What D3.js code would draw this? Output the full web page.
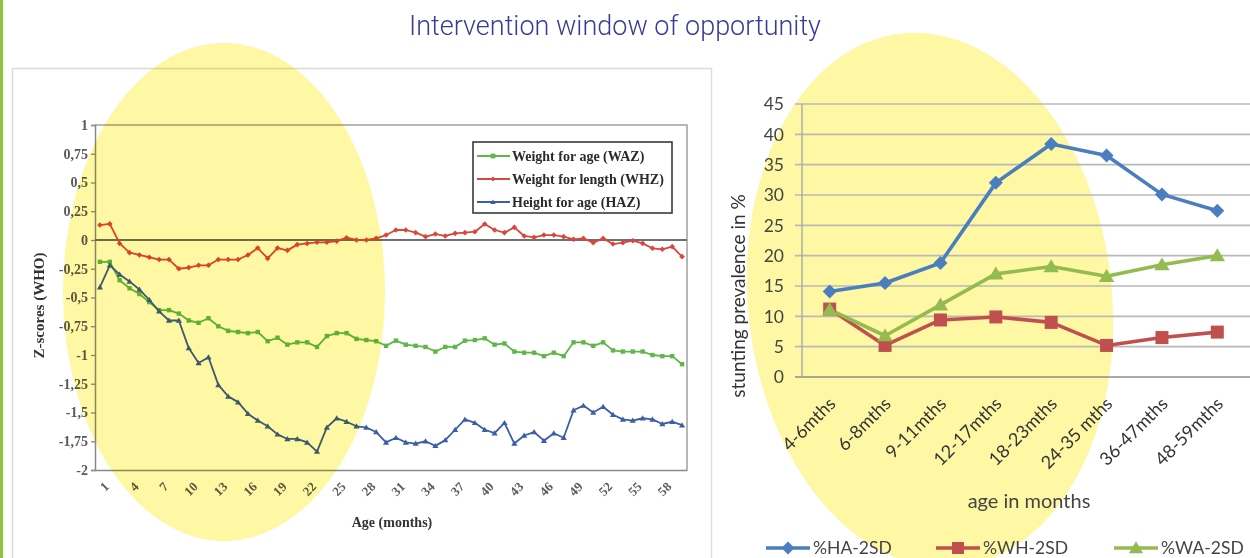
<!DOCTYPE html>
<html>
<head>
<meta charset="utf-8">
<script src="https://cdn.jsdelivr.net/npm/d3@7"></script>
<style>
  html, body { margin: 0; padding: 0; background: #ffffff; }
  svg { display: block; }
</style>
</head>
<body>
<svg id="chart" width="1250" height="558"></svg>
<script>
// ---------- Left panel: mean Z-scores by age in months ----------
const months = [1,2,3,4,5,6,7,8,9,10,11,12,13,14,15,16,17,18,19,20,
  21,22,23,24,25,26,27,28,29,30,31,32,33,34,35,36,37,38,39,40,
  41,42,43,44,45,46,47,48,49,50,51,52,53,54,55,56,57,58,59,60];
const monthTickLabels = [1,4,7,10,13,16,19,22,25,28,31,34,37,40,43,46,49,52,55,58];
const zTickValues = [1,0.75,0.5,0.25,0,-0.25,-0.5,-0.75,-1,-1.25,-1.5,-1.75,-2];

const waz = [-0.19,-0.19,-0.35,-0.42,-0.47,-0.54,-0.61,-0.61,-0.64,-0.70,
  -0.72,-0.68,-0.75,-0.79,-0.80,-0.81,-0.80,-0.88,-0.85,-0.91,
  -0.89,-0.89,-0.93,-0.835,-0.81,-0.81,-0.86,-0.87,-0.88,-0.92,
  -0.875,-0.91,-0.92,-0.93,-0.97,-0.93,-0.93,-0.875,-0.87,-0.855,
  -0.91,-0.90,-0.97,-0.98,-0.98,-1.01,-0.98,-1.01,-0.89,-0.89,
  -0.92,-0.89,-0.96,-0.97,-0.97,-0.97,-1.00,-1.01,-1.01,-1.08];
const whz = [0.13,0.14,-0.03,-0.11,-0.13,-0.15,-0.17,-0.17,-0.25,-0.24,
  -0.22,-0.22,-0.17,-0.17,-0.17,-0.13,-0.07,-0.16,-0.07,-0.09,
  -0.04,-0.03,-0.02,-0.02,-0.01,0.02,0.00,0.00,0.015,0.043,
  0.087,0.087,0.064,0.029,0.052,0.035,0.058,0.064,0.072,0.139,
  0.087,0.064,0.11,0.035,0.023,0.043,0.043,0.029,0.006,0.014,
  -0.023,0.014,-0.035,-0.023,-0.006,-0.029,-0.072,-0.081,-0.058,-0.145];
const haz = [-0.41,-0.22,-0.30,-0.36,-0.43,-0.52,-0.62,-0.70,-0.70,-0.94,
  -1.07,-1.02,-1.26,-1.36,-1.41,-1.51,-1.57,-1.62,-1.69,-1.73,
  -1.73,-1.76,-1.84,-1.63,-1.55,-1.58,-1.62,-1.63,-1.67,-1.76,
  -1.72,-1.76,-1.77,-1.75,-1.79,-1.74,-1.65,-1.56,-1.59,-1.65,
  -1.68,-1.59,-1.77,-1.70,-1.67,-1.745,-1.68,-1.72,-1.48,-1.44,
  -1.50,-1.45,-1.52,-1.56,-1.57,-1.55,-1.56,-1.60,-1.58,-1.61];
const zSeriesNames = ["Weight for age (WAZ)", "Weight for length (WHZ)", "Height for age (HAZ)"];

// ---------- Right panel: stunting prevalence by age group ----------
const ageGroups = ["4-6mths","6-8mths","9-11mths","12-17mths","18-23mths","24-35 mths","36-47mths","48-59mths"];
const pctHA = [14.1,15.5,18.8,32.0,38.4,36.5,30.1,27.4];
const pctWH = [11.2,5.2,9.4,9.9,9.0,5.2,6.5,7.4];
const pctWA = [11.1,6.8,11.9,17.0,18.2,16.6,18.5,20.0];
const prevSeriesNames = ["%HA-2SD","%WH-2SD","%WA-2SD"];
const prevTicks = [0,5,10,15,20,25,30,35,40,45];

const svg = d3.select("#chart");
const YELLOW = "#fef7a4";

// page accents
svg.append("rect").attr("x", 0).attr("y", 0).attr("width", 3).attr("height", 558).attr("fill", "#8cc63e");

// left chart frame
svg.append("rect").attr("x", 12.5).attr("y", 68.5).attr("width", 699).attr("height", 500)
  .attr("fill", "none").attr("stroke", "#dcdcdc").attr("stroke-width", 1.5);

// ===== Right chart =====
const R = { left: 802, right: 1245, top: 104, bottom: 377 };
const rx = d3.scalePoint().domain(ageGroups).range([R.left, R.right]).padding(0.5);
const ry = d3.scaleLinear().domain([0,45]).range([R.bottom, R.top]);

// highlighted window behind the right chart
svg.append("ellipse")
  .attr("cx", 0).attr("cy", 0).attr("rx", 182).attr("ry", 268)
  .attr("transform", "translate(930,300) rotate(-6)")
  .attr("fill", YELLOW);

const rg = svg.append("g");
// gridlines
rg.selectAll("line.grid").data(prevTicks).join("line")
  .attr("class", "grid")
  .attr("x1", R.left - 7).attr("x2", 1250)
  .attr("y1", d => ry(d)).attr("y2", d => ry(d))
  .attr("stroke", d => d === 0 ? "#8c8c8c" : "#b9b9b9")
  .attr("stroke-width", 1.6);
rg.append("line").attr("x1", R.left).attr("x2", R.left).attr("y1", ry(45)).attr("y2", ry(0))
  .attr("stroke", "#a8a8a8").attr("stroke-width", 1.4);

// y tick labels
rg.selectAll("text.ytick").data(prevTicks).join("text")
  .attr("class", "ytick")
  .attr("x", 784).attr("y", d => ry(d)).attr("dy", "0.36em")
  .attr("text-anchor", "end")
  .attr("font-family", "Lato, 'Open Sans', sans-serif").attr("font-size", 17.5)
  .attr("fill", "#444").text(d => d);

// x tick labels
rg.selectAll("text.xtick").data(ageGroups).join("text")
  .attr("class", "xtick")
  .attr("transform", d => `translate(${rx(d) + 7},${R.bottom + 28}) rotate(-45)`)
  .attr("text-anchor", "end")
  .attr("font-family", "Lato, 'Open Sans', sans-serif").attr("font-size", 18)
  .attr("fill", "#333").text(d => d);

// axis titles
rg.append("text")
  .attr("transform", "translate(745,296) rotate(-90)")
  .attr("text-anchor", "middle")
  .attr("font-family", "Lato, 'Open Sans', sans-serif").attr("font-size", 19)
  .attr("fill", "#333").text("stunting prevalence in %");
rg.append("text")
  .attr("x", 1029).attr("y", 508).attr("text-anchor", "middle")
  .attr("font-family", "Lato, 'Open Sans', sans-serif").attr("font-size", 20)
  .attr("fill", "#444").text("age in months");

const prevSeries = [
  { name: prevSeriesNames[0], values: pctHA, color: "#4a7ebf", shape: "diamond" },
  { name: prevSeriesNames[1], values: pctWH, color: "#c0504d", shape: "square" },
  { name: prevSeriesNames[2], values: pctWA, color: "#94bb4f", shape: "triangle" }
];

function markerPath(shape, s) {
  if (shape === "diamond") return `M0,${-s}L${s},0L0,${s}L${-s},0Z`;
  if (shape === "square") return `M${-s},${-s}H${s}V${s}H${-s}Z`;
  return `M0,${-s * 1.05}L${s * 1.1},${s * 0.8}L${-s * 1.1},${s * 0.8}Z`;
}

const rLine = d3.line().x((d, i) => rx(ageGroups[i])).y(d => ry(d));
prevSeries.forEach(s => {
  rg.append("path").attr("d", rLine(s.values)).attr("fill", "none")
    .attr("stroke", s.color).attr("stroke-width", 3.6).attr("stroke-linejoin", "round");
});
prevSeries.forEach(s => {
  const size = s.shape === "diamond" ? 7 : (s.shape === "square" ? 6.5 : 7);
  rg.selectAll(null).data(s.values).join("path")
    .attr("transform", (d, i) => `translate(${rx(ageGroups[i])},${ry(d)})`)
    .attr("d", markerPath(s.shape, size))
    .attr("fill", s.color);
});

// legend
const rLegendX = [766, 936, 1114];
prevSeries.forEach((s, i) => {
  const g = rg.append("g").attr("transform", `translate(${rLegendX[i]},548)`);
  g.append("line").attr("x1", 0).attr("x2", 44).attr("y1", 0).attr("y2", 0)
    .attr("stroke", s.color).attr("stroke-width", 3.6);
  g.append("path").attr("transform", "translate(22,0)")
    .attr("d", markerPath(s.shape, s.shape === "square" ? 6 : 6.5)).attr("fill", s.color);
  g.append("text").attr("x", 47).attr("y", 0).attr("dy", "0.36em")
    .attr("font-family", "Lato, 'Open Sans', sans-serif").attr("font-size", 17.5)
    .attr("fill", "#444").text(s.name);
});

// ===== Left chart =====
const L = { left: 95, right: 687, top: 125, bottom: 470 };
const lx = d3.scalePoint().domain(months).range([L.left, L.right]).padding(0.5);
const ly = d3.scaleLinear().domain([-2, 1]).range([L.bottom, L.top]);
const lg = svg.append("g");
const serif = "'Liberation Serif', 'Times New Roman', serif";

// plot area border (top and right)
lg.append("path")
  .attr("d", `M${L.left},${L.top}H${L.right}V${L.bottom}`)
  .attr("fill", "none").attr("stroke", "#a0a0a0").attr("stroke-width", 1.5);

// y axis
const yAxis = d3.axisLeft(ly).tickValues(zTickValues).tickSize(4)
  .tickFormat(d => String(d).replace(".", ","));
const yAx = lg.append("g").attr("transform", `translate(${L.left},0)`).call(yAxis);
yAx.select(".domain").attr("stroke", "#8a8a8a").attr("stroke-width", 1.5);
yAx.selectAll(".tick line").attr("stroke", "#8a8a8a").attr("stroke-width", 1.3);
yAx.selectAll(".tick text")
  .attr("font-family", serif).attr("font-weight", "bold").attr("font-size", 14)
  .attr("fill", "#5a5a5a").attr("x", -7);

// x axis
const xAxis = d3.axisBottom(lx).tickValues(monthTickLabels).tickSize(0).tickFormat(d => d);
const xAx = lg.append("g").attr("transform", `translate(0,${L.bottom})`).call(xAxis);
xAx.select(".domain").attr("stroke", "#8a8a8a").attr("stroke-width", 1.5);
xAx.selectAll(".tick text")
  .attr("font-family", serif).attr("font-weight", "bold").attr("font-size", 13)
  .attr("fill", "#5a5a5a")
  .attr("text-anchor", "end")
  .attr("transform", "translate(3,11) rotate(-45)")
  .attr("y", 0).attr("dy", "0.7em");

// zero reference line
lg.append("line").attr("x1", L.left).attr("x2", L.right)
  .attr("y1", ly(0)).attr("y2", ly(0))
  .attr("stroke", "#6e6e6e").attr("stroke-width", 2);

// axis titles
lg.append("text")
  .attr("transform", `translate(44,${(L.top + L.bottom) / 2 + 8}) rotate(-90)`)
  .attr("text-anchor", "middle")
  .attr("font-family", serif).attr("font-weight", "bold").attr("font-size", 15)
  .attr("fill", "#333").text("Z-scores (WHO)");
lg.append("text")
  .attr("x", 392).attr("y", 527).attr("text-anchor", "middle")
  .attr("font-family", serif).attr("font-weight", "bold").attr("font-size", 14)
  .attr("fill", "#333").text("Age (months)");

const zSeries = [
  { name: zSeriesNames[0], values: waz, color: "#5fb64a", shape: "square" },
  { name: zSeriesNames[1], values: whz, color: "#d9463c", shape: "diamond" },
  { name: zSeriesNames[2], values: haz, color: "#3b5ea6", shape: "triangle" }
];
const lLine = d3.line().x((d, i) => lx(months[i])).y(d => ly(d));
zSeries.forEach(s => {
  lg.append("path").attr("d", lLine(s.values)).attr("fill", "none")
    .attr("stroke", s.color).attr("stroke-width", 1.8).attr("stroke-linejoin", "round");
  lg.selectAll(null).data(s.values).join("path")
    .attr("transform", (d, i) => `translate(${lx(months[i])},${ly(d)})`)
    .attr("d", markerPath(s.shape, s.shape === "square" ? 2.2 : 2.8))
    .attr("fill", s.color);
});

// legend
const lLeg = lg.append("g").attr("transform", "translate(473,142)");
lLeg.append("rect").attr("width", 199).attr("height", 71)
  .attr("fill", "#ffffff").attr("stroke", "#3a3a3a").attr("stroke-width", 1.6);
zSeries.forEach((s, i) => {
  const yy = 14 + i * 23;
  lLeg.append("line").attr("x1", 4).attr("x2", 37).attr("y1", yy).attr("y2", yy)
    .attr("stroke", s.color).attr("stroke-width", 1.8);
  lLeg.append("path").attr("transform", `translate(20,${yy})`)
    .attr("d", markerPath(s.shape, 2.4)).attr("fill", s.color);
  lLeg.append("text").attr("x", 39).attr("y", yy).attr("dy", "0.35em")
    .attr("font-family", serif).attr("font-weight", "bold").attr("font-size", 14)
    .attr("fill", "#2a2a2a").text(s.name);
});

// highlighted window over the left chart
svg.append("ellipse")
  .attr("cx", 224).attr("cy", 292).attr("rx", 161).attr("ry", 249)
  .attr("fill", YELLOW)
  .style("mix-blend-mode", "multiply");

// heading
svg.append("text")
  .attr("x", 615).attr("y", 35).attr("text-anchor", "middle")
  .attr("font-family", "Roboto, 'Open Sans', sans-serif").attr("font-weight", 300)
  .attr("font-size", 27).attr("fill", "#3a3a98")
  .text("Intervention window of opportunity");
</script>
</body>
</html>
